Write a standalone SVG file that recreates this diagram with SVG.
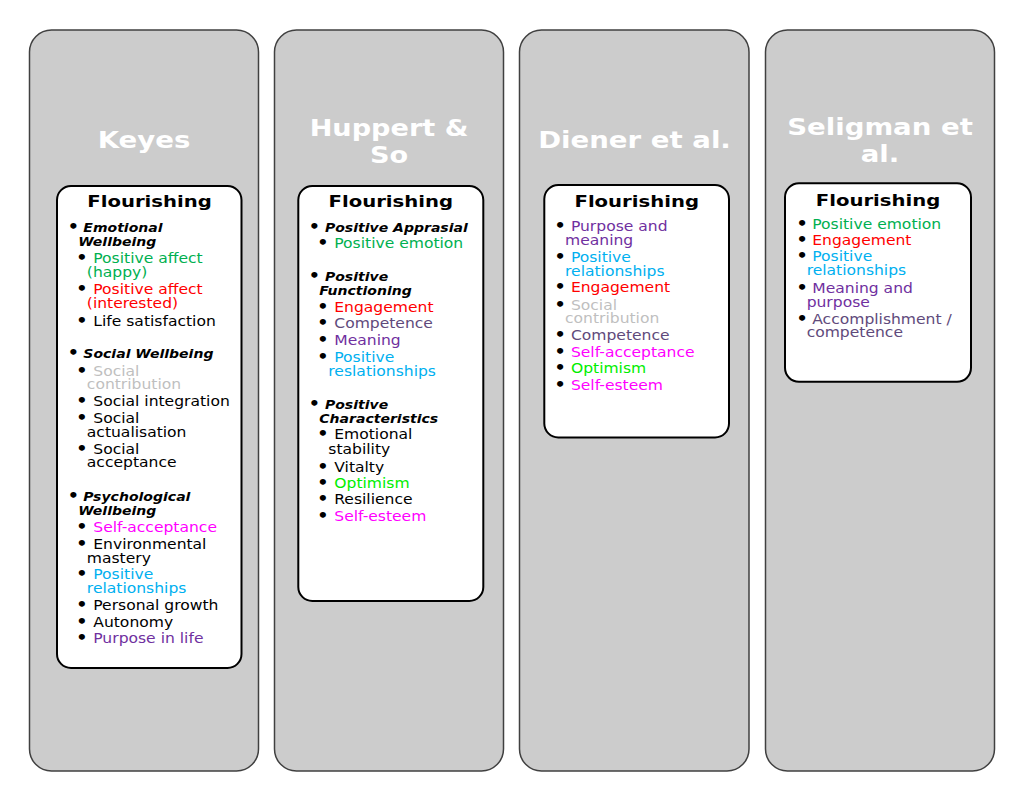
<svg xmlns="http://www.w3.org/2000/svg" width="1029" height="799" viewBox="0 0 1029 799">
<style>
.col{fill:#cccccc;stroke:#404040;stroke-width:1.5}
.box{fill:#ffffff;stroke:#000000;stroke-width:2}
.title{font-family:"DejaVu Sans",Verdana,sans-serif;font-weight:bold;font-size:23px;fill:#ffffff;text-anchor:middle}
.head{font-family:"DejaVu Sans",Verdana,sans-serif;font-weight:bold;font-size:15px;fill:#000000;text-anchor:middle}
.t{font-family:"DejaVu Sans",Verdana,sans-serif;font-size:13.3px;fill:#000000}
.t tspan:first-child{font-size:15px;font-weight:bold}
.h{font-weight:bold;font-style:italic;font-size:12px}
.gr{fill:#00b050}.rd{fill:#ff0000}.gy{fill:#bfbfbf}.pu{fill:#7030a0}.dp{fill:#604a7b}.bl{fill:#00b0f0}.mg{fill:#ff00ff}.lg{fill:#00ee00}
</style>
<rect width="1029" height="799" fill="#ffffff"/>

<g id="keyes">
<rect class="col" x="29.5" y="30" width="229" height="741" rx="22"/>
<text class="title" transform="translate(144,148) scale(1.2,1)">Keyes</text>
<rect class="box" x="57" y="186" width="184.5" height="482" rx="14"/>
<text class="head" transform="translate(149.5,207.3) scale(1.31,1)">Flourishing</text>
<g class="t" transform="translate(57,0) scale(1.17,1)">
<text y="232.3"><tspan x="9.3">•</tspan><tspan x="22.5" class="h">Emotional</tspan></text>
<text y="246.3" x="18.2" class="h">Wellbeing</text>
<text y="263.3"><tspan x="16.5">•</tspan><tspan x="31" class="gr">Positive affect</tspan></text>
<text y="277.5" x="25.5" class="gr">(happy)</text>
<text y="294"><tspan x="16.5">•</tspan><tspan x="31" class="rd">Positive affect</tspan></text>
<text y="308.3" x="25.5" class="rd">(interested)</text>
<text y="325.7"><tspan x="16.5">•</tspan><tspan x="31">Life satisfaction</tspan></text>
<text y="358.3"><tspan x="9.3">•</tspan><tspan x="22.5" class="h">Social Wellbeing</tspan></text>
<text y="376"><tspan x="16.5">•</tspan><tspan x="31" class="gy">Social</tspan></text>
<text y="389.3" x="25.5" class="gy">contribution</text>
<text y="406"><tspan x="16.5">•</tspan><tspan x="31">Social integration</tspan></text>
<text y="422.7"><tspan x="16.5">•</tspan><tspan x="31">Social</tspan></text>
<text y="436.7" x="25.5">actualisation</text>
<text y="454"><tspan x="16.5">•</tspan><tspan x="31">Social</tspan></text>
<text y="467.3" x="25.5">acceptance</text>
<text y="501"><tspan x="9.3">•</tspan><tspan x="22.5" class="h">Psychological</tspan></text>
<text y="515" x="18.2" class="h">Wellbeing</text>
<text y="532.3"><tspan x="16.5">•</tspan><tspan x="31" class="mg">Self-acceptance</tspan></text>
<text y="549"><tspan x="16.5">•</tspan><tspan x="31">Environmental</tspan></text>
<text y="562.7" x="25.5">mastery</text>
<text y="579.3"><tspan x="16.5">•</tspan><tspan x="31" class="bl">Positive</tspan></text>
<text y="593.3" x="25.5" class="bl">relationships</text>
<text y="610"><tspan x="16.5">•</tspan><tspan x="31">Personal growth</tspan></text>
<text y="626.7"><tspan x="16.5">•</tspan><tspan x="31">Autonomy</tspan></text>
<text y="643.3"><tspan x="16.5">•</tspan><tspan x="31" class="pu">Purpose in life</tspan></text>
</g>
</g>

<g id="huppert">
<rect class="col" x="274.5" y="30" width="229" height="741" rx="22"/>
<text class="title" transform="translate(389,136) scale(1.18,1)">Huppert &amp;</text>
<text class="title" transform="translate(389,163) scale(1.18,1)">So</text>
<rect class="box" x="298.3" y="186" width="185" height="415" rx="14"/>
<text class="head" transform="translate(390.8,206.7) scale(1.31,1)">Flourishing</text>
<g class="t" transform="translate(298,0) scale(1.17,1)">
<text y="231.7"><tspan x="9.3">•</tspan><tspan x="23" class="h">Positive Apprasial</tspan></text>
<text y="247.7"><tspan x="16.5">•</tspan><tspan x="31" class="gr">Positive emotion</tspan></text>
<text y="281"><tspan x="9.3">•</tspan><tspan x="23" class="h">Positive</tspan></text>
<text y="295" x="18.2" class="h">Functioning</text>
<text y="311.7"><tspan x="16.5">•</tspan><tspan x="31" class="rd">Engagement</tspan></text>
<text y="328.3"><tspan x="16.5">•</tspan><tspan x="31" class="dp">Competence</tspan></text>
<text y="345"><tspan x="16.5">•</tspan><tspan x="31" class="pu">Meaning</tspan></text>
<text y="362.3"><tspan x="16.5">•</tspan><tspan x="31" class="bl">Positive</tspan></text>
<text y="376" x="25.9" class="bl">reslationships</text>
<text y="409.3"><tspan x="9.3">•</tspan><tspan x="23" class="h">Positive</tspan></text>
<text y="423.3" x="18.2" class="h">Characteristics</text>
<text y="439.3"><tspan x="16.5">•</tspan><tspan x="31">Emotional</tspan></text>
<text y="454" x="25.9">stability</text>
<text y="471.7"><tspan x="16.5">•</tspan><tspan x="31">Vitalty</tspan></text>
<text y="488.3"><tspan x="16.5">•</tspan><tspan x="31" class="lg">Optimism</tspan></text>
<text y="504.3"><tspan x="16.5">•</tspan><tspan x="31">Resilience</tspan></text>
<text y="521"><tspan x="16.5">•</tspan><tspan x="31" class="mg">Self-esteem</tspan></text>
</g>
</g>

<g id="diener">
<rect class="col" x="519.5" y="30" width="229.5" height="741" rx="22"/>
<text class="title" transform="translate(634.5,148) scale(1.2,1)">Diener et al.</text>
<rect class="box" x="544.3" y="185" width="184.7" height="252.5" rx="14"/>
<text class="head" transform="translate(636.7,207.3) scale(1.31,1)">Flourishing</text>
<g class="t" transform="translate(544,0) scale(1.17,1)">
<text y="230.7"><tspan x="9">•</tspan><tspan x="23" class="pu">Purpose and</tspan></text>
<text y="245" x="18" class="pu">meaning</text>
<text y="261.7"><tspan x="9">•</tspan><tspan x="23" class="bl">Positive</tspan></text>
<text y="275.7" x="18" class="bl">relationships</text>
<text y="292.3"><tspan x="9">•</tspan><tspan x="23" class="rd">Engagement</tspan></text>
<text y="310"><tspan x="9">•</tspan><tspan x="23" class="gy">Social</tspan></text>
<text y="323.3" x="18" class="gy">contribution</text>
<text y="340"><tspan x="9">•</tspan><tspan x="23" class="dp">Competence</tspan></text>
<text y="356.7"><tspan x="9">•</tspan><tspan x="23" class="mg">Self-acceptance</tspan></text>
<text y="373.3"><tspan x="9">•</tspan><tspan x="23" class="lg">Optimism</tspan></text>
<text y="390"><tspan x="9">•</tspan><tspan x="23" class="mg">Self-esteem</tspan></text>
</g>
</g>

<g id="seligman">
<rect class="col" x="765.5" y="30" width="229" height="741" rx="22"/>
<text class="title" transform="translate(880,135) scale(1.2,1)">Seligman et</text>
<text class="title" transform="translate(880,162) scale(1.2,1)">al.</text>
<rect class="box" x="785" y="183.3" width="186" height="198.5" rx="14"/>
<text class="head" transform="translate(878,205.7) scale(1.31,1)">Flourishing</text>
<g class="t" transform="translate(785,0) scale(1.17,1)">
<text y="229"><tspan x="9.8">•</tspan><tspan x="23.3" class="gr">Positive emotion</tspan></text>
<text y="245"><tspan x="9.8">•</tspan><tspan x="23.3" class="rd">Engagement</tspan></text>
<text y="261"><tspan x="9.8">•</tspan><tspan x="23.3" class="bl">Positive</tspan></text>
<text y="275" x="18.5" class="bl">relationships</text>
<text y="293.3"><tspan x="9.8">•</tspan><tspan x="23.3" class="pu">Meaning and</tspan></text>
<text y="307.3" x="18.5" class="pu">purpose</text>
<text y="324"><tspan x="9.8">•</tspan><tspan x="23.3" class="dp">Accomplishment /</tspan></text>
<text y="337.3" x="18.5" class="dp">competence</text>
</g>
</g>

<g id="connectors"></g>
</svg>
